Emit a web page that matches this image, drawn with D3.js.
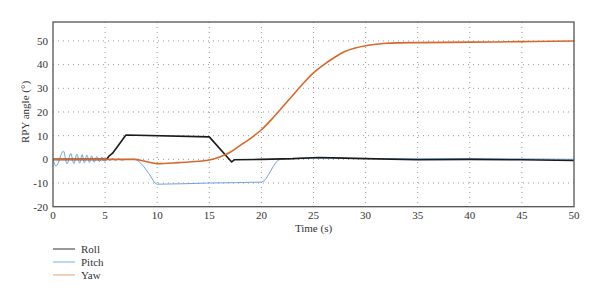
<!DOCTYPE html>
<html>
<head>
<meta charset="utf-8">
<script src="https://cdn.jsdelivr.net/npm/d3@7"></script>
<style>
  body { margin: 0; background: #fff; }
  text { font-family: "Liberation Serif", "DejaVu Serif", serif; fill: #333; }
</style>
</head>
<body>
<div id="chart"></div>
<script>
// values
const rollT = [0, 5.15, 5.4, 5.7, 7.0, 15.0, 17.15, 17.4, 20, 23, 25.5, 28, 30, 35, 40, 45, 50];
const rollV = [0, 0, 1.5, 2.5, 10.3, 9.5, -1.1, -0.2, 0, 0.3, 0.8, 0.5, 0.3, -0.2, 0, -0.2, -0.5];

const pitchT = [0, 0.3, 1.0, 1.35, 1.7, 2.0, 2.3, 2.55, 2.8, 3.0, 3.25, 3.5, 3.7, 3.95, 4.2, 4.45, 4.7, 4.95, 5.2, 5.45, 5.7, 6.0, 6.3, 6.6, 7.0, 7.8, 8.5, 9.2, 10.0, 15, 20, 21.8, 25, 30, 35, 40, 45, 50];
const pitchV = [0, -2.8, 3.5, -2, 2.5, -1.7, 2.2, -1.6, 2, -1.5, 1.8, -1.4, 1.5, -1.2, 1.2, -1, 1, -0.8, 0.6, -0.6, 0.4, -0.5, 0.2, -0.4, 0, 0, -2, -6, -10.5, -10, -9.6, 0, 0.5, 0.3, 0.3, 0.3, 0.2, 0];

const yawT = [0, 7.8, 9, 10, 12, 14, 15, 16, 17, 18, 19, 20, 21, 22, 23, 24, 25, 26, 27, 28, 29, 30, 31, 32, 33, 35, 40, 45, 50];
const yawV = [0, 0, -1, -1.8, -1.4, -0.8, -0.3, 1, 3, 6, 9, 12.5, 17, 22, 27, 32, 36.5, 40, 43, 45.5, 47, 48, 48.6, 49, 49.2, 49.3, 49.5, 49.7, 50];

const seriesNames = ["Roll", "Pitch", "Yaw"];
const lineColors = ["#1b1b1b", "#6fa3e0", "#d8672a"];
const legendColors = ["#777777", "#a9c8ee", "#f2c09c"];
const xTicks = [0, 5, 10, 15, 20, 25, 30, 35, 40, 45, 50];
const yTicks = [-20, -10, 0, 10, 20, 30, 40, 50];

const width = 600, height = 299;
const x = d3.scaleLinear().domain([0, 50]).range([53, 574]);
const y = d3.scaleLinear().domain([-20, 58]).range([206.7, 22]);

const svg = d3.select("#chart").append("svg")
  .attr("width", width)
  .attr("height", height);

// grid
svg.append("g").selectAll("line")
  .data(xTicks.slice(1, -1))
  .enter().append("line")
  .attr("x1", d => x(d)).attr("x2", d => x(d))
  .attr("y1", y(58)).attr("y2", y(-20))
  .attr("stroke", "#999").attr("stroke-dasharray", "1,4");

svg.append("g").selectAll("line")
  .data(yTicks.slice(1))
  .enter().append("line")
  .attr("x1", x(0)).attr("x2", x(50))
  .attr("y1", d => y(d)).attr("y2", d => y(d))
  .attr("stroke", "#999").attr("stroke-dasharray", "1,4");

// lines
const series = [
  { pts: d3.zip(pitchT, pitchV), color: lineColors[1], w: 1, curve: d3.curveMonotoneX },
  { pts: d3.zip(rollT, rollV), color: lineColors[0], w: 1.6, curve: d3.curveLinear },
  { pts: d3.zip(yawT, yawV), color: lineColors[2], w: 1.6, curve: d3.curveMonotoneX }
];
svg.append("g").selectAll("path")
  .data(series)
  .enter().append("path")
  .attr("d", d => d3.line().x(p => x(p[0])).y(p => y(p[1])).curve(d.curve)(d.pts))
  .attr("fill", "none")
  .attr("stroke", d => d.color)
  .attr("stroke-width", d => d.w)
  .attr("stroke-linejoin", "round");

// frame
svg.append("rect")
  .attr("x", x(0)).attr("y", y(58))
  .attr("width", x(50) - x(0)).attr("height", y(-20) - y(58))
  .attr("fill", "none").attr("stroke", "#555").attr("stroke-width", 1.3);

// tick labels
svg.append("g").selectAll("text")
  .data(yTicks)
  .enter().append("text")
  .attr("x", 48).attr("y", d => y(d)).attr("dy", "0.35em")
  .attr("text-anchor", "end")
  .style("font-size", "11px")
  .text(d => d);

svg.append("g").selectAll("text")
  .data(xTicks)
  .enter().append("text")
  .attr("x", d => x(d)).attr("y", 219)
  .attr("text-anchor", "middle")
  .style("font-size", "11px")
  .text(d => d);

svg.append("text")
  .attr("x", x(25)).attr("y", 232)
  .attr("text-anchor", "middle")
  .style("font-size", "11px")
  .text("Time (s)");

svg.append("text")
  .attr("transform", `translate(29, ${y(20)}) rotate(-90)`)
  .attr("text-anchor", "middle")
  .style("font-size", "11px")
  .text("RPY angle (°)");

// legend
const legend = svg.append("g").selectAll("g")
  .data(seriesNames)
  .enter().append("g")
  .attr("transform", (d, i) => `translate(53, ${249 + i * 13})`);
legend.append("line")
  .attr("x1", 0).attr("x2", 22)
  .attr("stroke", (d, i) => legendColors[i]).attr("stroke-width", 1.5);
legend.append("text")
  .attr("x", 28).attr("dy", "0.35em")
  .style("font-size", "11px")
  .text(d => d);
</script>
</body>
</html>
